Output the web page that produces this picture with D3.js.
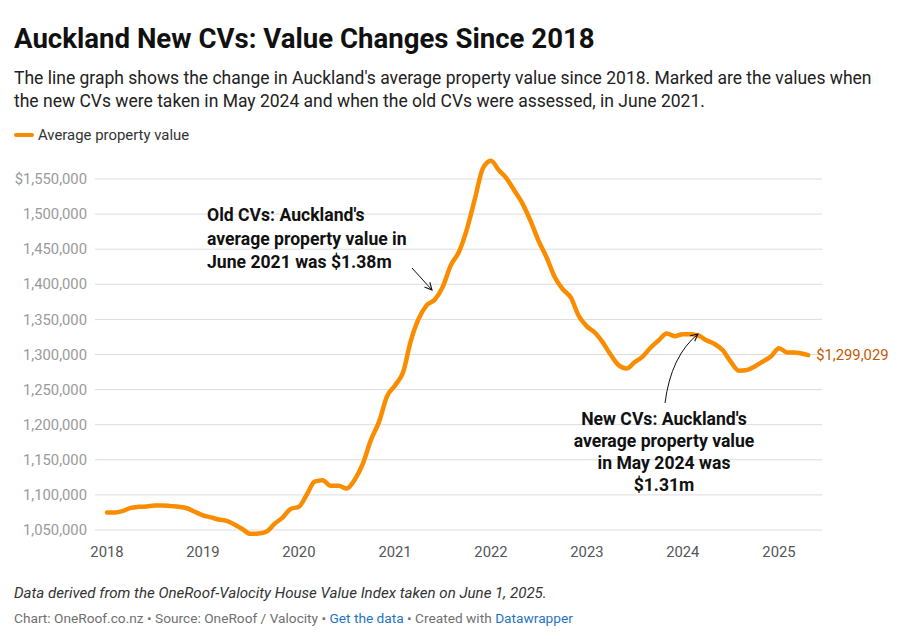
<!DOCTYPE html>
<html>
<head>
<meta charset="utf-8">
<script src="https://cdn.jsdelivr.net/npm/d3@7"></script>
<style>
  html, body { margin: 0; padding: 0; background: #fff; }
  svg { display: block; font-family: Roboto, "Noto Sans", sans-serif; }
</style>
</head>
<body>
<svg id="chart" width="924" height="639"></svg>
<script>
// ---------- DATA ----------
const dates = [
  "2018-01-01","2018-02-01","2018-03-01","2018-04-01","2018-05-01","2018-06-01","2018-07-01","2018-08-01","2018-09-01","2018-10-01","2018-11-01","2018-12-01",
  "2019-01-01","2019-02-01","2019-03-01","2019-04-01","2019-05-01","2019-06-01","2019-07-01","2019-08-01","2019-09-01","2019-10-01","2019-11-01","2019-12-01",
  "2020-01-01","2020-02-01","2020-03-01","2020-04-01","2020-05-01","2020-06-01","2020-07-01","2020-08-01","2020-09-01","2020-10-01","2020-11-01","2020-12-01",
  "2021-01-01","2021-02-01","2021-03-01","2021-04-01","2021-05-01","2021-06-01","2021-07-01","2021-08-01","2021-09-01","2021-10-01","2021-11-01","2021-12-01",
  "2022-01-01","2022-02-01","2022-03-01","2022-04-01","2022-05-01","2022-06-01","2022-07-01","2022-08-01","2022-09-01","2022-10-01","2022-11-01","2022-12-01",
  "2023-01-01","2023-02-01","2023-03-01","2023-04-01","2023-05-01","2023-06-01","2023-07-01","2023-08-01","2023-09-01","2023-10-01","2023-11-01","2023-12-01",
  "2024-01-01","2024-02-01","2024-03-01","2024-04-01","2024-05-01","2024-06-01","2024-07-01","2024-08-01","2024-09-01","2024-10-01","2024-11-01","2024-12-01",
  "2025-01-01","2025-02-01","2025-03-01","2025-04-22"
];
const avgValue = [
  1075000,1075000,1077000,1081500,1083000,1083500,1085000,1085000,1084000,1083000,1081000,1076000,
  1071000,1068000,1065000,1063000,1058000,1051000,1044500,1045000,1048000,1059000,1068000,1080000,
  1083000,1101000,1119000,1121000,1113000,1113000,1109000,1122000,1145000,1178000,1204000,1240000,
  1256000,1275000,1318000,1351000,1370000,1378000,1396000,1427000,1446000,1478000,1522000,1565000,
  1576000,1562000,1551000,1533000,1515000,1490000,1462000,1438000,1410000,1393000,1381000,1355000,
  1340000,1331000,1318000,1300000,1285000,1280000,1289000,1297000,1310000,1320000,1330000,1326000,
  1329000,1329000,1327000,1320000,1315000,1306000,1290000,1277000,1278000,1283000,1290000,1297000,
  1309000,1303000,1303000,1299029
];
const yTicks = [1050000,1100000,1150000,1200000,1250000,1300000,1350000,1400000,1450000,1500000,1550000];
const xTickYears = ["2018","2019","2020","2021","2022","2023","2024","2025"];
const seriesName = "Average property value";
const lastLabel = "$1,299,029";

const title = "Auckland New CVs: Value Changes Since 2018";
const subtitleLines = [
  "The line graph shows the change in Auckland's average property value since 2018. Marked are the values when",
  "the new CVs were taken in May 2024 and when the old CVs were assessed, in June 2021."
];
const noteOld = ["Old CVs: Auckland's", "average property value in", "June 2021 was $1.38m"];
const noteNew = ["New CVs: Auckland's", "average property value", "in May 2024 was", "$1.31m"];

// ---------- SETUP ----------
const parse = d3.timeParse("%Y-%m-%d");
const data = dates.map((d, i) => ({ date: parse(d), value: avgValue[i] }));
const svg = d3.select("#chart");
const orange = "#fa8c00";

const x = d3.scaleTime()
  .domain([parse("2018-01-01"), parse("2025-01-01")])
  .range([107, 779]);
const y = d3.scaleLinear()
  .domain([1050000, 1550000])
  .range([530, 179]);

const gridX0 = 95, gridX1 = 822;

// Title / subtitle
svg.append("text").attr("x", 14).attr("y", 48)
  .attr("font-size", 27.6).attr("font-weight", 700).attr("fill", "#111")
  .text(title);
subtitleLines.forEach((t, i) => {
  svg.append("text").attr("x", 14).attr("y", 84 + i * 23)
    .attr("font-size", 17.5).attr("fill", "#222").text(t);
});

// Legend
svg.append("line").attr("x1", 16).attr("x2", 32).attr("y1", 135).attr("y2", 135)
  .attr("stroke", orange).attr("stroke-width", 4).attr("stroke-linecap", "round");
svg.append("text").attr("x", 38).attr("y", 140).attr("font-size", 14.9).attr("fill", "#333")
  .text(seriesName);

// Gridlines + y labels
const yAxis = svg.append("g");
yTicks.forEach(v => {
  yAxis.append("line").attr("x1", gridX0).attr("x2", gridX1)
    .attr("y1", y(v)).attr("y2", y(v))
    .attr("stroke", "#dcdcdc").attr("stroke-width", 1);
  yAxis.append("text").attr("x", 87).attr("y", y(v)).attr("dy", "0.35em")
    .attr("text-anchor", "end").attr("font-size", 14.8).attr("fill", "#9a9a9a")
    .text((v === 1550000 ? "$" : "") + d3.format(",")(v));
});

// X labels
const xAxis = svg.append("g");
xTickYears.forEach(yr => {
  xAxis.append("text").attr("x", x(parse(yr + "-01-01"))).attr("y", 557)
    .attr("text-anchor", "middle").attr("font-size", 14.8).attr("fill", "#555")
    .text(yr);
});

// Line
const line = d3.line().x(d => x(d.date)).y(d => y(d.value)).curve(d3.curveMonotoneX);
svg.append("path").datum(data).attr("d", line)
  .attr("fill", "none").attr("stroke", orange).attr("stroke-width", 4.5)
  .attr("stroke-linejoin", "round").attr("stroke-linecap", "round");

// Last value label
const last = data[data.length - 1];
svg.append("text").attr("x", x(last.date) + 8).attr("y", y(last.value)).attr("dy", "0.35em")
  .attr("font-size", 14.8).attr("fill", "#bf5a05").text(lastLabel);

// Annotations
const defs = svg.append("defs");
defs.append("marker").attr("id", "arrow").attr("viewBox", "0 0 10 10")
  .attr("refX", 9).attr("refY", 5).attr("markerWidth", 9).attr("markerHeight", 9)
  .attr("orient", "auto-start-reverse").attr("markerUnits", "userSpaceOnUse")
  .append("path").attr("d", "M1,1 L9,5 L1,9").attr("fill", "none")
  .attr("stroke", "#111").attr("stroke-width", 1.2);

noteOld.forEach((t, i) => {
  svg.append("text").attr("x", 207).attr("y", 221 + i * 23.5)
    .attr("font-size", 17.6).attr("font-weight", 700).attr("fill", "#111").text(t);
});
svg.append("path").attr("d", "M412,268 L432,290")
  .attr("fill", "none").attr("stroke", "#111").attr("stroke-width", 1)
  .attr("marker-end", "url(#arrow)");

noteNew.forEach((t, i) => {
  svg.append("text").attr("x", 664).attr("y", 425 + i * 22)
    .attr("text-anchor", "middle")
    .attr("font-size", 17.6).attr("font-weight", 700).attr("fill", "#111").text(t);
});
svg.append("path").attr("d", "M665,403 Q671,356 698,334")
  .attr("fill", "none").attr("stroke", "#111").attr("stroke-width", 1)
  .attr("marker-end", "url(#arrow)");

// Footer
svg.append("text").attr("x", 14).attr("y", 598)
  .attr("font-size", 15.1).attr("font-style", "italic").attr("fill", "#333")
  .text("Data derived from the OneRoof-Valocity House Value Index taken on June 1, 2025.");
const foot = svg.append("text").attr("x", 14).attr("y", 623).attr("font-size", 13.7).attr("fill", "#707070");
foot.append("tspan").text("Chart: OneRoof.co.nz • Source: OneRoof / Valocity • ");
foot.append("tspan").attr("fill", "#1f74c2").text("Get the data");
foot.append("tspan").text(" • Created with ");
foot.append("tspan").attr("fill", "#1f74c2").text("Datawrapper");
</script>
</body>
</html>
